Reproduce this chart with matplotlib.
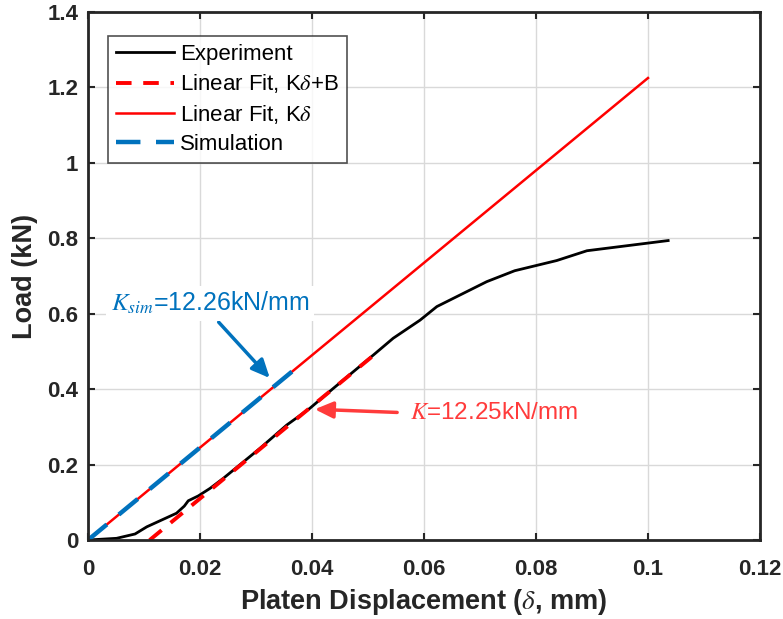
import matplotlib
matplotlib.use('Agg')
import matplotlib.pyplot as plt
import numpy as np

# experiment curve (mm, kN)
exp_x = [0.0, 0.0051, 0.0084, 0.0105, 0.0158, 0.0172, 0.0179, 0.0197, 0.0218,
         0.0242, 0.0307, 0.0355, 0.0396, 0.0438, 0.0510, 0.0545, 0.0593,
         0.0623, 0.0712, 0.0762, 0.0837, 0.0891, 0.1036]
exp_y = [0.0, 0.0045, 0.016, 0.035, 0.071, 0.090, 0.104, 0.117, 0.137,
         0.164, 0.243, 0.305, 0.349, 0.402, 0.491, 0.535, 0.583,
         0.619, 0.685, 0.714, 0.741, 0.767, 0.794]

K_fit = 12.25       # kN/mm
B_fit = -0.135      # kN
K_sim = 12.26       # kN/mm

fitB_x = [0.011, 0.051]
fit_x = [0.0, 0.1]
sim_x = [0.0, 0.0385]

xticks = [0, 0.02, 0.04, 0.06, 0.08, 0.1, 0.12]
xtick_labels = ['0', '0.02', '0.04', '0.06', '0.08', '0.1', '0.12']
yticks = [0, 0.2, 0.4, 0.6, 0.8, 1.0, 1.2, 1.4]
ytick_labels = ['0', '0.2', '0.4', '0.6', '0.8', '1', '1.2', '1.4']

plt.rcParams['font.family'] = ['Liberation Sans', 'DejaVu Sans']
plt.rcParams['mathtext.fontset'] = 'stix'

fig = plt.figure(figsize=(7.83, 6.19), dpi=100)
ax = fig.add_axes([0.1124, 0.1276, 0.8582, 0.853])

ax.plot(exp_x, exp_y, color='black', lw=2.0, label='Experiment')
ax.plot(fitB_x, K_fit * np.array(fitB_x) + B_fit, color='red', lw=2.8,
        dashes=(4, 3), label=r'Linear Fit, K$\delta$+B')
ax.plot(fit_x, K_fit * np.array(fit_x), color='red', lw=1.8,
        label=r'Linear Fit, K$\delta$')
ax.plot(sim_x, K_sim * np.array(sim_x), color='#0072BD', lw=3.2,
        dashes=(5.5, 3.5), label='Simulation')

ax.set_xlim(0, 0.12)
ax.set_ylim(0, 1.4)
ax.set_xticks(xticks)
ax.set_xticklabels(xtick_labels)
ax.set_yticks(yticks)
ax.set_yticklabels(ytick_labels)
ax.tick_params(direction='in', top=True, right=True, labelsize=16,
               width=1.5, length=5, color='#262626', pad=7)
ax.tick_params(axis='x', pad=14)
for lab in ax.get_xticklabels() + ax.get_yticklabels():
    lab.set_fontweight('bold')
    lab.set_color('#262626')
for sp in ax.spines.values():
    sp.set_linewidth(2)
    sp.set_color('#262626')
ax.grid(True, color='#d9d9d9', lw=1)
ax.set_axisbelow(True)

ax.set_xlabel(r'Platen Displacement ($\delta$, mm)', fontsize=19.5,
              fontweight='bold', color='#262626', labelpad=5)
ax.set_ylabel('Load (kN)', fontsize=19.5, fontweight='bold', color='#262626',
              labelpad=7)

leg = ax.legend(loc='upper left', bbox_to_anchor=(0.03, 0.955), fontsize=16,
                frameon=True, fancybox=False, edgecolor='#262626',
                handlelength=2.6, borderpad=0.35, labelspacing=0.35,
                handletextpad=0.3, borderaxespad=0)
leg.get_frame().set_linewidth(1.2)

ax.annotate('', xy=(0.0328, 0.424), xytext=(0.0230, 0.583),
            arrowprops=dict(arrowstyle='-|>,head_width=0.5,head_length=1.1',
                            color='#0072BD', lw=2.5))
ax.text(0.0218, 0.628, r'$K_{sim}$=12.26kN/mm', color='#0072BD', fontsize=18,
        ha='center', va='center',
        bbox=dict(facecolor='white', edgecolor='none', pad=3))

ax.annotate('', xy=(0.0400, 0.347), xytext=(0.0557, 0.338),
            arrowprops=dict(arrowstyle='-|>,head_width=0.5,head_length=1.1',
                            color='#ff3b3b', lw=2.5))
ax.text(0.0575, 0.337, r'$K$=12.25kN/mm', color='#ff3b3b', fontsize=17.5,
        ha='left', va='center')

fig.savefig('out.png', dpi=100)
